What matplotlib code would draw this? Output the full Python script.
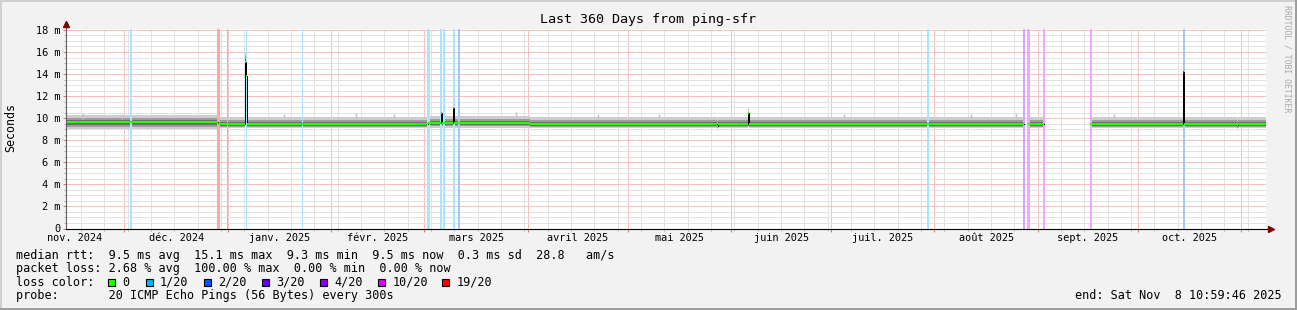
import matplotlib
matplotlib.use("Agg")
import matplotlib.pyplot as plt
import matplotlib.dates as mdates
from matplotlib.ticker import MultipleLocator
from matplotlib.lines import Line2D
from matplotlib.patches import Rectangle
import matplotlib.transforms as mtransforms
import numpy as np
import pandas as pd

W, H, DPI = 1297, 310, 100
MONO = "DejaVu Sans Mono"
nan = np.nan

# ---- data ------------------------------------------------------------------
t_end = pd.Timestamp("2025-11-08 10:59:46")
t_start = t_end - pd.Timedelta(days=360)

# median rtt in ms, constant from seg_start[i] to the next start
seg_start = pd.to_datetime([
    "2024-11-13 10:59", "2024-12-29 00:00", "2025-01-06 04:00", "2025-01-06 11:00",
    "2025-01-06 18:00", "2025-03-02 00:00", "2025-03-05 20:00", "2025-03-06 04:00",
    "2025-03-09 10:00", "2025-03-09 20:00", "2025-04-01 16:00", "2025-05-27 18:00",
    "2025-05-28 02:00", "2025-06-06 00:00", "2025-06-06 08:00", "2025-08-27 20:00",
    "2025-08-28 22:00", "2025-09-02 17:00", "2025-09-16 16:00", "2025-10-14 10:00",
    "2025-10-15 00:00", "2025-10-30 18:00", "2025-10-31 02:00",
])
median = [9.64, 9.45, 15.10, 13.85, 9.45, 9.58, 10.50, 9.58, 10.90, 9.58, 9.50, 9.32,
          9.50, 10.45, 9.50, nan, 9.50, nan, 9.50, 14.20, 9.50, 9.36, 9.50]
median_loss = [0, 0, 0, 0, 0, 0, 1, 0, 1, 0, 0, 0,
               0, 0, 0, 0, 0, 0, 0, 2, 0, 0, 0]

# smoke: spread of the 20 pings (outer / middle / inner band)
outer_lo = [9.06, 9.10, 14.00, 13.60, 9.10, 9.12, 9.15, 9.12, 9.15, 9.12, 9.10, 9.00,
            9.10, 9.20, 9.10, nan, 9.10, nan, 9.10, 13.60, 9.10, 9.05, 9.10]
outer_hi = [10.26, 10.10, 15.95, 14.05, 10.10, 10.20, 11.20, 10.20, 11.20, 10.20, 10.08, 10.00,
            10.08, 10.90, 10.08, nan, 10.08, nan, 10.08, 14.50, 10.08, 10.05, 10.08]
mid_lo = [9.20, 9.22, 14.30, 13.65, 9.22, 9.25, 9.30, 9.25, 9.30, 9.25, 9.24, 9.10,
          9.24, 9.30, 9.24, nan, 9.24, nan, 9.24, 13.80, 9.24, 9.15, 9.24]
mid_hi = [9.98, 9.82, 15.65, 14.00, 9.82, 9.90, 10.80, 9.90, 11.00, 9.90, 9.80, 9.70,
          9.80, 10.60, 9.80, nan, 9.80, nan, 9.80, 14.35, 9.80, 9.75, 9.80]
core_lo = [9.40, 9.30, 14.80, 13.70, 9.30, 9.40, 9.50, 9.40, 9.60, 9.40, 9.30, 9.20,
           9.30, 9.50, 9.30, nan, 9.30, nan, 9.30, 14.00, 9.30, 9.22, 9.30]
core_hi = [9.80, 9.62, 15.35, 13.95, 9.62, 9.72, 10.60, 9.72, 10.95, 9.72, 9.62, 9.45,
           9.62, 10.50, 9.62, nan, 9.62, nan, 9.62, 14.30, 9.62, 9.50, 9.62]

# isolated tall pings poking out of the smoke
peak_time = pd.to_datetime([
    "2024-11-18 12:00", "2024-11-30 06:00", "2025-01-18 00:00", "2025-02-08 12:00",
    "2025-02-20 00:00", "2025-03-28 12:00", "2025-04-22 00:00", "2025-05-10 12:00",
    "2025-07-05 00:00", "2025-08-12 00:00", "2025-08-25 12:00", "2025-09-24 00:00",
])
peak_top = [10.45, 10.40, 10.35, 10.50, 10.40, 10.60, 10.35, 10.40, 10.35, 10.40,
            10.45, 10.40]

# packet loss events (full-height marks)
loss_time = pd.to_datetime([
    "2024-12-02 21:00", "2024-12-29 03:30", "2024-12-31 20:00", "2025-01-06 17:00",
    "2025-01-23 08:00", "2025-03-02 04:00", "2025-03-05 23:00", "2025-03-06 21:00",
    "2025-03-09 19:00", "2025-03-11 08:00", "2025-07-30 03:30", "2025-08-27 20:30",
    "2025-08-29 06:30", "2025-09-02 20:30", "2025-09-16 23:00", "2025-10-14 20:30",
])
loss_hours = [14, 22, 7, 7, 7, 22, 14, 14, 14, 14, 14, 14, 22, 14, 14, 14]
loss_level = [1, 6, 2, 1, 1, 1, 1, 1, 1, 2, 1, 4, 5, 5, 5, 2]

loss_names = ["0", "1/20", "2/20", "3/20", "4/20", "10/20", "19/20"]
loss_colors = ["#26ff00", "#00b8ff", "#0059ff", "#5e00ff", "#7e00ff", "#dd00ff", "#ff0000"]

month_labels = ["nov. 2024", "déc. 2024", "janv. 2025", "févr. 2025", "mars 2025",
                "avril 2025", "mai 2025", "juin 2025", "juil. 2025", "août 2025",
                "sept. 2025", "oct. 2025"]
y_ticks = [0, 2, 4, 6, 8, 10, 12, 14, 16, 18]
y_labels = ["0", "2 m", "4 m", "6 m", "8 m", "10 m", "12 m", "14 m", "16 m", "18 m"]

legend_lines = [
    "median rtt:  9.5 ms avg  15.1 ms max  9.3 ms min  9.5 ms now  0.3 ms sd  28.8   am/s",
    "packet loss: 2.68 % avg  100.00 % max  0.00 % min  0.00 % now",
    "loss color:",
    "probe:       20 ICMP Echo Pings (56 Bytes) every 300s",
]


def lighten(c, a=0.35):
    rgb = np.array(matplotlib.colors.to_rgb(c))
    return tuple(1 - a * (1 - rgb))


# ---- figure ----------------------------------------------------------------
fig = plt.figure(figsize=(W / DPI, H / DPI), dpi=DPI, facecolor="#f2f2f2")
ax = fig.add_axes([66 / W, (H - 228.5) / H, 1200 / W, 200 / H])
ax.set_facecolor("white")

seg_end = list(seg_start[1:]) + [t_end]
for i in range(len(median)):
    if np.isnan(median[i]):
        continue
    t = [seg_start[i], seg_end[i]]
    ax.fill_between(t, outer_lo[i], outer_hi[i], color="#cdcdcd", lw=0, zorder=1)
    ax.fill_between(t, mid_lo[i], mid_hi[i], color="#9c9c9c", lw=0, zorder=1)
    ax.fill_between(t, core_lo[i], core_hi[i], color="#6c6c6c", lw=0, zorder=1)
ax.vlines(peak_time, 9.9, peak_top, color="#c4c4c4", lw=1.0, zorder=1)

for t, h, lv in zip(loss_time, loss_hours, loss_level):
    half = pd.Timedelta(hours=h / 2)
    ax.axvspan(t - half, t + half, color=lighten(loss_colors[lv]), lw=0, zorder=2)

ax.step(list(seg_start) + [t_end], median + [median[-1]], where="post",
        color="black", lw=0.72, zorder=3)
for i in range(len(median)):
    if np.isnan(median[i]):
        continue
    ax.hlines(median[i], seg_start[i], seg_end[i], color=loss_colors[median_loss[i]],
              lw=1.5, zorder=4)

ax.set_xlim(t_start, t_end)
ax.set_ylim(0, 18.13)

# grid
ax.xaxis.set_major_locator(mdates.MonthLocator())
ax.xaxis.set_minor_locator(mdates.WeekdayLocator(byweekday=mdates.MO))
ax.yaxis.set_major_locator(MultipleLocator(2))
ax.yaxis.set_minor_locator(MultipleLocator(0.5))
ax.set_axisbelow(True)
ax.grid(which="minor", color="#e2e2e2", lw=0.72, ls=(0, (1, 1)), antialiased=False)
ax.grid(which="major", color="#f6c0c0", lw=0.72, ls=(0, (1, 1)), antialiased=False)
ax.set_yticks(y_ticks, y_labels)
ax.tick_params(axis="x", which="both", labelbottom=False)
ax.tick_params(axis="x", which="major", length=2.2, width=0.72, color="#e07070")
ax.tick_params(axis="x", which="minor", length=1.5, width=0.72, color="#b0b0b0")
ax.tick_params(axis="y", which="major", length=2.2, width=0.72, color="#e07070",
               pad=2.0, labelsize=7.4)
ax.tick_params(axis="y", which="minor", length=1.5, width=0.72, color="#b0b0b0")
for lab in ax.get_yticklabels():
    lab.set_family(MONO)
for s in ax.spines.values():
    s.set_visible(False)

# axes with arrows
ax.plot([0, 0], [0, 1.03], transform=ax.transAxes, color="#606060", lw=0.8,
        clip_on=False, zorder=5)
ax.plot([0, 1.005], [0, 0], transform=ax.transAxes, color="black", lw=0.8,
        clip_on=False, zorder=5)
ax.plot([0], [1.025], transform=ax.transAxes, marker="^", ms=4.5, color="#7f0000",
        mec="#7f0000", clip_on=False, zorder=6)
ax.plot([1.0045], [0], transform=ax.transAxes, marker=">", ms=4.5, color="#7f0000",
        mec="#7f0000", clip_on=False, zorder=6)

# month labels centred in each month
mstarts = pd.date_range("2024-11-01", periods=13, freq="MS")
mids = mstarts[:-1] + (mstarts[1:] - mstarts[:-1]) / 2
trans = mtransforms.blended_transform_factory(ax.transData, ax.transAxes)
for m, lab in zip(mids, month_labels):
    ax.text(m, -9.5 / 200, lab, transform=trans, ha="center", va="center",
            fontsize=7.4, family=MONO)

# titles and texts
fig.text(648 / W, 1 - 19.5 / H, "Last 360 Days from ping-sfr", ha="center",
         va="center", fontsize=9.6, family=MONO)
fig.text(11 / W, 1 - 127 / H, "Seconds", rotation=90, ha="center", va="center",
         fontsize=8.4, family=MONO)
fig.text(1287 / W, 1 - 59 / H, "RRDTOOL / TOBI OETIKER", rotation=270, ha="center",
         va="center", fontsize=5.9, family=MONO, color="#a8a8a8")

baselines = [258.5, 272.0, 285.7, 299.3]
for line, yb in zip(legend_lines, baselines):
    fig.text(15.5 / W, 1 - yb / H, line, ha="left", va="baseline", fontsize=8.5,
             family=MONO)
fig.text(1281.5 / W, 1 - 299.3 / H, "end: Sat Nov  8 10:59:46 2025", ha="right",
         va="baseline", fontsize=8.5, family=MONO)

box_x = [108, 146, 204, 262, 320, 378, 442]
text_x = [122.5, 160, 218, 276, 334, 392.5, 457]
for bx, tx, name, col in zip(box_x, text_x, loss_names, loss_colors):
    fig.add_artist(Rectangle((bx / W, 1 - 286 / H), 7 / W, 7.5 / H, transform=fig.transFigure,
                             facecolor=col, edgecolor="black", lw=0.8))
    fig.text(tx / W, 1 - 285.7 / H, name, ha="left", va="baseline", fontsize=8.5,
             family=MONO)

# 3D frame
for (x0, y0, x1, y1, c) in [(0, 1 - 1 / H, 1, 1 - 1 / H, "#cfcfcf"),
                            (1 / W, 0, 1 / W, 1, "#cfcfcf"),
                            (0, 1 / H, 1, 1 / H, "#9e9e9e"),
                            (1 - 1 / W, 0, 1 - 1 / W, 1, "#9e9e9e")]:
    fig.add_artist(Line2D([x0, x1], [y0, y1], transform=fig.transFigure, color=c, lw=1.44))

fig.savefig("out.png", dpi=DPI, facecolor=fig.get_facecolor())
